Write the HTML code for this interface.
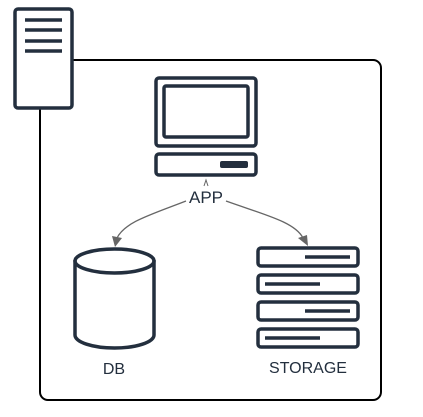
<!DOCTYPE html>
<html><head><style>body{margin:0;background:#fff}svg{display:block}</style></head><body>
<svg width="423" height="417" xmlns="http://www.w3.org/2000/svg">
<rect x="40" y="60" width="341" height="340" rx="8" fill="#fff" stroke="#000" stroke-width="2"/>
<g fill="none" stroke="#232f3e" stroke-width="3.5">
<rect x="15" y="9" width="57" height="99" rx="3" fill="#fff"/>
<path d="M25 20H62M25 30H62M25 41H62M25 51H62"/>
<rect x="156" y="78" width="100" height="68" rx="3"/>
<rect x="164" y="86" width="84" height="51" rx="2"/>
<rect x="156" y="154" width="100" height="21" rx="3"/>
<path d="M75 260V335A39.5 13 0 0 0 154 335V260"/>
<ellipse cx="114.5" cy="261" rx="39.5" ry="12"/>
<rect x="258" y="248" width="100" height="18" rx="3"/>
<rect x="258" y="275" width="100" height="18" rx="3"/>
<rect x="258" y="302" width="100" height="18" rx="3"/>
<rect x="258" y="329" width="100" height="18" rx="3"/>
</g>
<rect x="220" y="161" width="28" height="7" rx="2" fill="#232f3e"/>
<g stroke="#232f3e" stroke-width="3.5">
<path d="M305 257H350M265 284H320M305 311H350M265 338H320"/>
</g>
<path d="M186 201C150 215 125 222 117 238" fill="none" stroke="#666" stroke-width="1.3"/>
<path d="M112 236L115 247L122 238Z" fill="#666"/>
<path d="M226 201C265 215 295 222 303 238" fill="none" stroke="#666" stroke-width="1.3"/>
<path d="M298 238L308 246L307 235Z" fill="#666"/>
<path d="M204 186L206 180L208 186" fill="none" stroke="#666" stroke-width="1"/>
<g font-family="Liberation Sans, sans-serif" fill="#232f3e" text-anchor="middle">
<text x="206" y="203" font-size="17">APP</text>
<text x="114" y="374" font-size="16">DB</text>
<text x="308" y="373" font-size="16">STORAGE</text>
</g>
</svg>
</body></html>
